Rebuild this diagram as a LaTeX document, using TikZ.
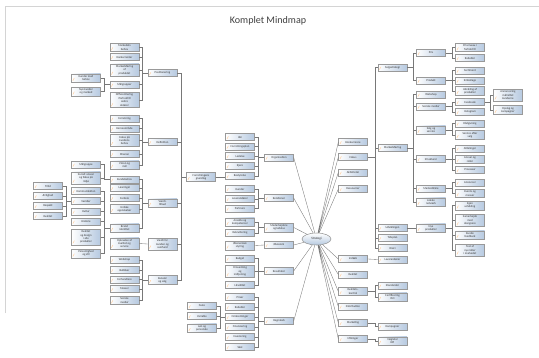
\documentclass[tikz,border=0pt]{standalone}
\usepackage{fontspec}
\setmainfont{Carlito}
\usetikzlibrary{shapes.geometric,shadows}
\definecolor{boxblue}{RGB}{182,201,224}
\definecolor{linegray}{RGB}{120,120,120}
\definecolor{framegray}{RGB}{212,212,212}

\begin{document}
\begin{tikzpicture}[x=0.03cm, y=-0.03cm,
    box/.style={rectangle, draw=gray!80, line width=0.3pt, left color=white, right color=boxblue,
        minimum width=0.87cm, minimum height=0.21cm, inner xsep=1pt, inner ysep=1.2pt, align=center,
        font=\fontsize{2.5}{2.9}\selectfont, text=black!80,
        drop shadow={shadow xshift=0.6pt, shadow yshift=-0.6pt, opacity=0.75},
        path picture={\draw[orange!35, line width=0.5pt] ([xshift=1.2pt,yshift=1.2pt]path picture bounding box.south west) -- ++(1.2pt,2.4pt);}},
    hub/.style={ellipse, draw=gray!85, line width=0.45pt, top color=white, bottom color=boxblue,
        minimum width=0.87cm, minimum height=0.36cm, inner sep=0pt, font=\fontsize{2.8}{3.2}\selectfont, text=black!80},
    link/.style={draw=linegray, line width=0.3pt}]
    \useasboundingbox (0,0) rectangle (539,357);
    % frame and title
    \draw[framegray, line width=0.6pt] (5,313) -- (5,6) -- (539,6);
    \node[font=\fontsize{8.6}{10}\selectfont, text=black!75] (title) at (268,21) {Komplet Mindmap};

    % center
    \node[hub] (ctr) at (316.5,239) {Strategi};

    % Left side - main branches
    \node[box] (s1) at (279,157.5) {Organisation};
    \node[box] (s2) at (279,198) {Relationer};
    \node[box] (s3) at (279,227.5) {Medarbejdere\\og ledelse};
    \node[box] (s4) at (279,245) {Økonomi};
    \node[box] (s5) at (279,271) {Resultater};
    \node[box] (s6) at (279,321) {Regnskab};

    \node[box] (e1) at (240,137) {Idé};
    \node[box] (e2) at (240,146.5) {Forretningsplan};
    \node[box] (e3) at (240,156) {Ledelse};
    \node[box] (e4) at (240,166) {Ejere};
    \node[box] (e5) at (240,176) {Bestyrelse};
    \node[box] (e6) at (240,189) {Kunder};
    \node[box] (e7) at (240,199) {Leverandører};
    \node[box] (e8) at (240,208.5) {Partnere};
    \node[box] (e9) at (240,222) {Ansatte og\\kompetencer};
    \node[box] (e10) at (240,233) {Rekruttering};
    \node[box] (e11) at (240,245.5) {Økonomisk\\styring};
    \node[box] (e12) at (240,258.5) {Budget};
    \node[box] (e13) at (240,271.5) {Omsætning\\og\\indtjening};
    \node[box] (e14) at (240,285) {Likviditet};
    \node[box] (e15) at (240,297) {Priser};
    \node[box] (e16) at (240,307) {Rabatter};
    \node[box] (e17) at (240,317) {Omkostninger};
    \node[box] (e18) at (240,327) {Finansiering};
    \node[box] (e19) at (240,337) {Investering};
    \node[box] (e20) at (240,347) {Skat};

    \node[box] (el1) at (202,306) {Faste};
    \node[box] (el2) at (202,316) {Variable};
    \node[box] (el3) at (202,328) {Løn og\\personale};

    \node[box] (r) at (201,177) {Forretningens\\grundlag};

    \node[box] (d1) at (162.5,73) {Positionering};
    \node[box] (d2) at (162.5,142) {Definition};
    \node[box] (d3) at (162.5,203) {Værdi-\\tilbud};
    \node[box] (d4) at (162.5,244) {Værdi for\\kunden og\\samfund};
    \node[box] (d5) at (162.5,280) {Kanaler\\og salg};

    \node[box] (c1) at (124.5,47.5) {Markedets\\behov};
    \node[box] (c2) at (124.5,57) {Konkurrenter};
    \node[box] (c3) at (124.5,70) {Markedsføring\\af\\produktet};
    \node[box] (c4) at (124.5,84.5) {Målgrupper};
    \node[box] (c5) at (124.5,100) {Differentiering\\i forhold til\\andre\\aktører};
    \node[box] (c6) at (124.5,118.5) {Forretning};
    \node[box] (c7) at (124.5,128.5) {Kerneområde};
    \node[box] (c8) at (124.5,140.5) {Fokus på\\kundens\\behov};
    \node[box] (c9) at (124.5,154) {Mission};
    \node[box] (c10) at (124.5,165) {Vision og\\mål};
    \node[box] (c11) at (124.5,179.5) {Kundebehov};
    \node[box] (c12) at (124.5,188) {Løsninger};
    \node[box] (c13) at (124.5,198) {Fordele};
    \node[box] (c14) at (124.5,209) {Unikke\\egenskaber};
    \node[box] (c15) at (124.5,228) {Brand\\identitet};
    \node[box] (c16) at (124.5,243.5) {Oplevelse af\\kvalitet og\\service};
    \node[box] (c17) at (124.5,260) {Webshop};
    \node[box] (c18) at (124.5,270) {Butikker};
    \node[box] (c19) at (124.5,279.5) {Forhandlere};
    \node[box] (c20) at (124.5,289) {Messer};
    \node[box] (c21) at (124.5,300.5) {Sociale\\medier};

    \node[box] (l1) at (86,78) {Kunder med\\behov};
    \node[box] (l2) at (86,91.5) {Nye kunder\\og marked};

    \node[box] (m1) at (86,164.5) {Målgruppe};
    \node[box] (m2) at (86,178) {Socialt ansvar\\og fokus på\\miljø};
    \node[box] (m3) at (86,191) {Kommunikation};
    \node[box] (m4) at (86,201) {Værdier};
    \node[box] (m5) at (86,211.5) {Kultur};
    \node[box] (m6) at (86,221.5) {Historie};
    \node[box] (m7) at (86,237) {Kvalitet\\og design\\i alle\\produkter};
    \node[box] (m8) at (86,253.5) {Personlighed\\og stil};

    \node[box] (a1) at (48,186) {Tillid};
    \node[box] (a2) at (48,196) {Ærlighed};
    \node[box] (a3) at (48,206) {Respekt};
    \node[box] (a4) at (48,216) {Kvalitet};

    % Right side - main branches
    \node[box] (g1) at (353,142) {Konkurrence};
    \node[box] (g2) at (353,157) {Fokus};
    \node[box] (g3) at (353,172.5) {Aktiviteter};
    \node[box] (g4) at (353,189) {Ressourcer};
    \node[box] (g5) at (353,259) {Indkøb};
    \node[box] (g6) at (353,274.5) {Kvalitet};
    \node[box] (g7) at (353,291.5) {Kvalitets-\\kontrol};
    \node[box] (g8) at (353,306.5) {Distribution};
    \node[box] (g9) at (353,323) {Marketing};
    \node[box] (g10) at (353,339) {Målinger};

    \node[box] (h1) at (392.5,67.5) {Salgsstrategi};
    \node[box] (h2) at (392.5,148) {Markedsføring};
    \node[box] (h3) at (392.5,228) {Udviklingen};
    \node[box] (h4) at (392.5,238) {Tidsplan};
    \node[box] (h5) at (392.5,248) {Risici};

    \node[box] (x1) at (392.5,259.5) {Leverandører};
    \node[box] (x2) at (392.5,285.5) {Standarder};
    \node[box] (x3) at (392.5,297) {Certificering\\ISO};
    \node[box] (x4) at (392.5,326.5) {Kampagner};
    \node[box] (x5) at (392.5,341) {Nøgletal\\KPI};

    \node[box] (i1) at (431,53) {Pris};
    \node[box] (i2) at (431,80.5) {Produkt};
    \node[box] (i3) at (431,94.5) {Webshop};
    \node[box] (i4) at (431,106.5) {Sociale medier};
    \node[box] (i5) at (431,130) {Salg og\\service};
    \node[box] (i6) at (431,159) {Strukturer};
    \node[box] (i7) at (431,188.5) {Markedsføre};
    \node[box] (i8) at (431,202) {Lokale\\netværk};
    \node[box] (i9) at (431,228) {Nye\\produkter};

    \node[box] (j1) at (470,47.5) {Prisniveau i\\forhold til};
    \node[box] (j2) at (470,58) {Rabatter};
    \node[box] (j3) at (470,70.5) {Sortiment};
    \node[box] (j4) at (470,80.5) {Emballage};
    \node[box] (j5) at (470,91) {Udvikling af\\produkter};
    \node[box] (j6) at (470,102) {Facebook};
    \node[box] (j7) at (470,112) {Instagram};
    \node[box] (j8) at (470,123.5) {Rådgivning};
    \node[box] (j9) at (470,135) {Service efter\\salg};
    \node[box] (j10) at (470,148.5) {Afdelinger};
    \node[box] (j11) at (470,159.5) {Ansvar og\\roller};
    \node[box] (j12) at (470,170) {Processer};
    \node[box] (j13) at (470,182.5) {Annoncer};
    \node[box] (j14) at (470,193.5) {Events og\\messer};
    \node[box] (j15) at (470,205.5) {Egen\\udvikling};
    \node[box] (j16) at (470,220.5) {Samarbejde\\med\\designere};
    \node[box] (j17) at (470,235) {Kunde\\feedback};
    \node[box] (j18) at (470,250) {Test af\\nye idéer\\i markedet};

    \node[box] (k1) at (508,95) {Annoncering\\målrettet\\kunderne};
    \node[box] (k2) at (508,110) {Opslag og\\kampagner};

    % connectors left
    \draw[link] (l1.east) -- ++(3,0) |- (c4.west) (l2.east) -- ++(3,0) |- (c4.west);
    \draw[link] (c1.east) -- ++(3,0) |- (d1.west) (c2.east) -- ++(3,0) |- (d1.west)
        (c3.east) -- ++(3,0) |- (d1.west) (c4.east) -- ++(3,0) |- (d1.west) (c5.east) -- ++(3,0) |- (d1.west);
    \draw[link] (c6.east) -- ++(3,0) |- (d2.west) (c7.east) -- ++(3,0) |- (d2.west)
        (c8.east) -- ++(3,0) |- (d2.west) (c9.east) -- ++(3,0) |- (d2.west) (c10.east) -- ++(3,0) |- (d2.west);
    \draw[link] (m1.east) -- ++(3,0) |- (c11.west) (m2.east) -- ++(3,0) |- (c11.west);
    \draw[link] (m3.east) -- ++(3,0) |- (c15.west) (m4.east) -- ++(3,0) |- (c15.west)
        (m5.east) -- ++(3,0) |- (c15.west) (m6.east) -- ++(3,0) |- (c15.west)
        (m7.east) -- ++(3,0) |- (c15.west) (m8.east) -- ++(3,0) |- (c15.west);
    \draw[link] (a1.east) -- ++(3,0) |- (m4.west) (a2.east) -- ++(3,0) |- (m4.west)
        (a3.east) -- ++(3,0) |- (m4.west) (a4.east) -- ++(3,0) |- (m4.west);
    \draw[link] (c11.east) -- ++(3,0) |- (d3.west) (c12.east) -- ++(3,0) |- (d3.west)
        (c13.east) -- ++(3,0) |- (d3.west) (c14.east) -- ++(3,0) |- (d3.west) (c15.east) -- ++(3,0) |- (d3.west);
    \draw[link] (c16.east) -- (d4.west);
    \draw[link] (c17.east) -- ++(3,0) |- (d5.west) (c18.east) -- ++(3,0) |- (d5.west)
        (c19.east) -- ++(3,0) |- (d5.west) (c20.east) -- ++(3,0) |- (d5.west) (c21.east) -- ++(3,0) |- (d5.west);
    \draw[link] (d1.east) -- ++(4,0) |- (r.west) (d2.east) -- ++(4,0) |- (r.west)
        (d3.east) -- ++(4,0) |- (r.west) (d4.east) -- ++(4,0) |- (r.west) (d5.east) -- ++(4,0) |- (r.west);
    \draw[link] (r.east) -- (r.east -| e5.west);
    \draw[link] (e1.east) -- ++(3,0) |- (s1.west) (e2.east) -- ++(3,0) |- (s1.west)
        (e3.east) -- ++(3,0) |- (s1.west) (e4.east) -- ++(3,0) |- (s1.west) (e5.east) -- ++(3,0) |- (s1.west);
    \draw[link] (e6.east) -- ++(3,0) |- (s2.west) (e7.east) -- ++(3,0) |- (s2.west) (e8.east) -- ++(3,0) |- (s2.west);
    \draw[link] (e9.east) -- ++(3,0) |- (s3.west) (e10.east) -- ++(3,0) |- (s3.west);
    \draw[link] (e11.east) -- (s4.west);
    \draw[link] (e12.east) -- ++(3,0) |- (s5.west) (e13.east) -- ++(3,0) |- (s5.west) (e14.east) -- ++(3,0) |- (s5.west);
    \draw[link] (e15.east) -- ++(3,0) |- (s6.west) (e16.east) -- ++(3,0) |- (s6.west)
        (e17.east) -- ++(3,0) |- (s6.west) (e18.east) -- ++(3,0) |- (s6.west)
        (e19.east) -- ++(3,0) |- (s6.west) (e20.east) -- ++(3,0) |- (s6.west);
    \draw[link] (el1.east) -- ++(3,0) |- (e17.west) (el2.east) -- ++(3,0) |- (e17.west) (el3.east) -- ++(3,0) |- (e17.west);
    \draw[link] (s1.east) -- (ctr) (s2.east) -- (ctr) (s3.east) -- (ctr)
        (s4.east) -- (ctr) (s5.east) -- (ctr) (s6.east) -- (ctr);

    % connectors right
    \draw[link] (ctr) -- (g1.west) (ctr) -- (g2.west) (ctr) -- (g3.west) (ctr) -- (g4.west) (ctr) -- (g5.west)
        (ctr) -- (g6.west) (ctr) -- (g7.west) (ctr) -- (g8.west) (ctr) -- (g9.west) (ctr) -- (g10.west);
    \draw[link] (h1.west) -- ++(-3,0) |- (g2.east) (h2.west) -- ++(-3,0) |- (g2.east)
        (h3.west) -- ++(-3,0) |- (g2.east) (h4.west) -- ++(-3,0) |- (g2.east) (h5.west) -- ++(-3,0) |- (g2.east);
    \draw[link] (x1.west) -- (g5.east);
    \draw[link] (x2.west) -- ++(-3,0) |- (g7.east) (x3.west) -- ++(-3,0) |- (g7.east);
    \draw[link] (x4.west) -- ++(-3,0) |- (g9.east);
    \draw[link] (x5.west) -- ++(-3,0) |- (g10.east);
    \draw[link] (i1.west) -- ++(-3,0) |- (h1.east) (i2.west) -- ++(-3,0) |- (h1.east);
    \draw[link] (i3.west) -- ++(-3,0) |- (h2.east) (i4.west) -- ++(-3,0) |- (h2.east)
        (i5.west) -- ++(-3,0) |- (h2.east) (i6.west) -- ++(-3,0) |- (h2.east)
        (i7.west) -- ++(-3,0) |- (h2.east) (i8.west) -- ++(-3,0) |- (h2.east);
    \draw[link] (i9.west) -- (h3.east);
    \draw[link] (j1.west) -- ++(-3,0) |- (i1.east) (j2.west) -- ++(-3,0) |- (i1.east);
    \draw[link] (j3.west) -- ++(-3,0) |- (i2.east) (j4.west) -- ++(-3,0) |- (i2.east) (j5.west) -- ++(-3,0) |- (i2.east);
    \draw[link] (j6.west) -- ++(-3,0) |- (i4.east) (j7.west) -- ++(-3,0) |- (i4.east);
    \draw[link] (j8.west) -- ++(-3,0) |- (i5.east) (j9.west) -- ++(-3,0) |- (i5.east);
    \draw[link] (j10.west) -- ++(-3,0) |- (i6.east) (j11.west) -- ++(-3,0) |- (i6.east) (j12.west) -- ++(-3,0) |- (i6.east);
    \draw[link] (j13.west) -- ++(-3,0) |- (i7.east) (j14.west) -- ++(-3,0) |- (i7.east);
    \draw[link] (j15.west) -- ++(-3,0) |- (i9.east) (j16.west) -- ++(-3,0) |- (i9.east)
        (j17.west) -- ++(-3,0) |- (i9.east) (j18.west) -- ++(-3,0) |- (i9.east);
    \draw[link] (k1.west) -- ++(-3,0) |- (j6.east) (k2.west) -- ++(-3,0) |- (j6.east);
\end{tikzpicture}
\end{document}
